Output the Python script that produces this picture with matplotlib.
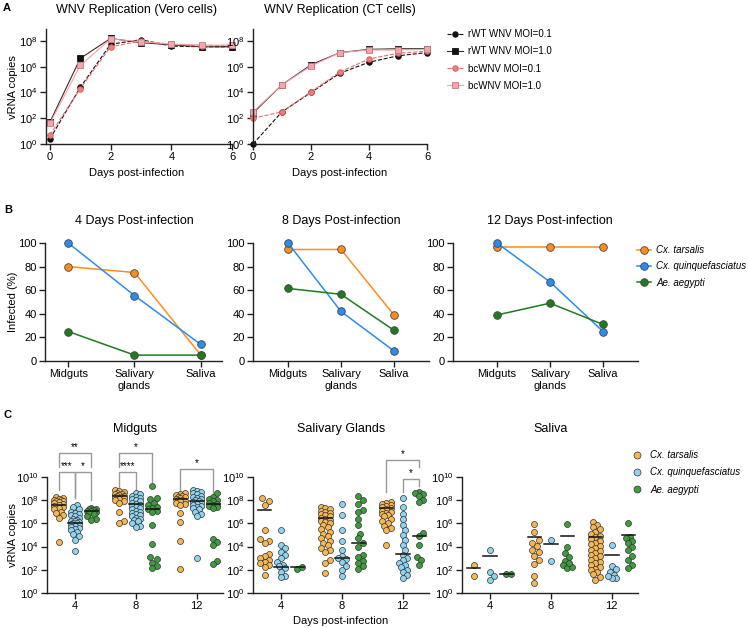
import numpy as np
import matplotlib
matplotlib.use('Agg')
import matplotlib.pyplot as plt
from matplotlib.ticker import NullLocator
from matplotlib.lines import Line2D

plt.rcParams['font.family'] = ['Liberation Sans', 'DejaVu Sans']
plt.rcParams['mathtext.fontset'] = 'custom'
plt.rcParams['mathtext.rm'] = 'Liberation Sans'
plt.rcParams['mathtext.it'] = 'Liberation Sans:italic'
plt.rcParams['mathtext.default'] = 'regular'

# ---------------- data (log10 copies for A and C) ----------------
days = [0, 1, 2, 3, 4, 5, 6]
vero_rwt_01 = [0.4, 4.4, 7.75, 8.1, 7.6, 7.55, 7.55]
vero_rwt_10 = [1.7, 6.65, 8.2, 7.87, 7.7, 7.55, 7.55]
vero_bc_01 = [0.7, 4.3, 7.55, 8.0, 7.75, 7.6, 7.7]
vero_bc_10 = [1.6, 6.1, 8.15, 7.95, 7.75, 7.7, 7.65]
ct_rwt_01 = [0.0, 2.5, 4.0, 5.5, 6.35, 6.85, 7.1]
ct_rwt_10 = [2.4, 4.6, 6.15, 7.1, 7.35, 7.4, 7.4]
ct_bc_01 = [2.0, 2.5, 4.05, 5.6, 6.6, 7.05, 7.2]
ct_bc_10 = [2.5, 4.6, 6.05, 7.1, 7.3, 7.3, 7.35]
a_labels = ['rWT WNV MOI=0.1', 'rWT WNV MOI=1.0', 'bcWNV MOI=0.1', 'bcWNV MOI=1.0']

tissues_b = ['Midguts', 'Salivary\nglands', 'Saliva']
b_titles = ['4 Days Post-infection', '8 Days Post-infection', '12 Days Post-infection']
species = ['Cx. tarsalis', 'Cx. quinquefasciatus', 'Ae. aegypti']
inf_tar = [[80, 75, 5], [94.5, 94.5, 39], [97, 97, 97]]
inf_qui = [[100, 55.5, 14], [100, 42, 8.5], [100, 67, 25]]
inf_aeg = [[25, 5, 5], [61.5, 56.5, 26], [39, 49, 31]]

c_days = ['4', '8', '12']
c_titles = ['Midguts', 'Salivary Glands', 'Saliva']
mid_tar = [[8.3, 8.2, 8.1, 8.05, 8.0, 7.95, 7.9, 7.85, 7.8, 7.7, 7.6, 7.5, 7.45, 7.3, 7.2, 7.0, 6.9, 6.7, 6.5, 4.4],
           [8.9, 8.8, 8.7, 8.65, 8.55, 8.5, 8.45, 8.4, 8.35, 8.3, 8.25, 8.2, 8.1, 8.0, 7.9, 7.8, 7.0, 6.2, 6.0],
           [8.6, 8.5, 8.45, 8.4, 8.3, 8.25, 8.2, 8.1, 8.05, 8.0, 7.95, 7.9, 7.8, 7.7, 7.6, 6.9, 6.1, 4.5, 2.05]]
mid_qui = [[7.6, 7.4, 7.2, 7.0, 6.9, 6.8, 6.7, 6.6, 6.5, 6.4, 6.3, 6.25, 6.2, 6.1, 6.05, 6.0, 5.95, 5.9, 5.8, 5.7,
            5.6, 5.5, 5.4, 5.3, 5.1, 4.9, 4.6, 3.6],
           [8.6, 8.5, 8.4, 8.3, 8.2, 8.1, 8.0, 7.9, 7.8, 7.7, 7.6, 7.5, 7.4, 7.3, 7.2, 7.1, 7.0, 6.9, 6.8, 6.7,
            6.6, 6.5, 6.4, 6.3, 6.2, 6.0, 5.8, 5.7],
           [8.9, 8.8, 8.7, 8.6, 8.5, 8.4, 8.3, 8.2, 8.1, 8.0, 7.9, 7.85, 7.8, 7.7, 7.6, 7.5, 7.4, 7.3, 7.2, 7.0,
            6.8, 6.6, 3.0]]
mid_aeg = [[7.3, 7.25, 7.2, 7.15, 7.1, 7.05, 7.0, 6.9, 6.8, 6.6, 6.4, 6.3],
           [9.2, 8.2, 8.1, 7.8, 7.6, 7.4, 7.3, 7.2, 7.1, 7.0, 5.9, 4.2, 3.1, 2.9, 2.6, 2.3, 2.15],
           [8.6, 8.3, 8.1, 8.0, 7.9, 7.8, 7.7, 7.6, 7.5, 7.4, 7.3, 4.65, 4.4, 4.15, 2.8, 2.5]]
mid_bars = [[7.6, 8.4, 8.1], [6.06, 7.67, 7.96], [7.07, 7.24, 7.65]]

sal_tar = [[8.15, 7.95, 7.6, 5.45, 4.65, 4.45, 4.3, 3.4, 3.2, 3.0, 2.85, 2.7, 2.55, 2.4, 2.2, 1.55],
           [7.4, 7.3, 7.2, 7.1, 7.0, 6.9, 6.8, 6.7, 6.6, 6.5, 6.4, 6.3, 6.2, 6.1, 6.0, 5.9, 5.7, 5.5, 5.3, 5.1,
            4.9, 4.7, 4.5, 4.3, 4.1, 3.9, 3.7, 3.55, 2.85, 2.6, 1.7],
           [7.85, 7.8, 7.7, 7.6, 7.5, 7.4, 7.3, 7.2, 7.1, 7.0, 6.9, 6.8, 6.7, 6.6, 6.4, 6.2, 6.0, 5.8, 5.6, 5.4, 4.15]]
sal_qui = [[5.4, 4.15, 3.85, 3.55, 3.3, 3.0, 2.7, 2.45, 2.3, 2.15, 1.85, 1.5, 1.4],
           [7.65, 6.7, 5.4, 4.5, 3.7, 3.2, 3.0, 2.9, 2.7, 2.3, 2.0, 1.5],
           [8.15, 7.4, 6.85, 6.4, 5.85, 5.4, 5.0, 4.55, 4.15, 3.7, 3.3, 3.0, 2.85, 2.6, 2.45, 2.2, 2.0, 1.8,
            1.55, 1.3]]
sal_aeg = [[2.1, 2.25],
           [8.4, 8.05, 7.7, 7.15, 7.0, 6.4, 5.85, 5.1, 4.7, 4.3, 3.95, 3.3, 3.1, 2.8, 2.6, 2.3, 2.05],
           [8.7, 8.6, 8.5, 8.4, 8.0, 7.85, 5.15, 4.9, 4.15, 3.1, 2.85, 2.45]]
sal_bars = [[7.13, 6.44, 7.3], [2.27, 3.05, 3.36], [2.2, 4.28, 4.9]]

sva_tar = [[2.45, 1.5],
           [5.95, 5.3, 4.55, 4.35, 4.05, 3.7, 3.5, 3.15, 2.85, 2.5, 1.45, 0.85],
           [6.15, 5.9, 5.7, 5.5, 5.3, 5.1, 4.95, 4.8, 4.65, 4.5, 4.35, 4.2, 4.05, 3.9, 3.75, 3.6, 3.45, 3.3,
            3.15, 3.0, 2.85, 2.7, 2.55, 2.4, 2.25, 2.1, 1.95, 1.8, 1.6, 1.4, 1.15]]
sva_qui = [[3.75, 1.85, 1.5, 1.15],
           [4.55, 2.8],
           [4.15, 2.3, 2.05, 1.85, 1.55, 1.3, 1.3, 1.5]]
sva_aeg = [[1.65, 1.65],
           [5.95, 4.0, 3.45, 3.1, 2.8, 2.45, 2.15, 2.2, 2.6],
           [6.05, 4.85, 4.7, 4.5, 4.3, 4.0, 3.7, 3.15, 2.85, 2.45, 2.15]]
sva_bars = [[2.15, 4.85, 4.85], [3.15, 4.2, 3.25], [1.65, 4.95, 5.0]]

# (day index, species a, species b, bracket height, leg a bottom, leg b bottom, label)
mid_sig = [(0, 0, 2, 12.07, 10.85, 10.85, '**'), (0, 0, 1, 10.43, 8.88, 8.2, '***'),
           (0, 1, 2, 10.43, 8.3, 8.0, '*'), (1, 0, 2, 12.07, 10.85, 9.6, '*'),
           (1, 0, 1, 10.43, 9.15, 8.3, '****'), (2, 0, 2, 10.69, 8.8, 8.3, '*')]
sal_sig = [(2, 0, 2, 11.47, 8.7, 10.9, '*'), (2, 1, 2, 9.83, 8.7, 9.2, '*')]

# ---------------- layout helpers ----------------
W, H = 748, 628
fig = plt.figure(figsize=(W / 100, H / 100), dpi=100)
INK = '#222222'


def add_ax(l, t, r, b):
    return fig.add_axes([l / W, 1 - b / H, (r - l) / W, (b - t) / H])


def ftext(x, y, s, **kw):
    fig.text(x / W, 1 - y / H, s, **kw)


def prism(ax, size=8):
    for s in ['top', 'right']:
        ax.spines[s].set_visible(False)
    for s in ['left', 'bottom']:
        ax.spines[s].set_linewidth(1.0)
        ax.spines[s].set_color(INK)
    ax.tick_params(direction='out', length=4, width=1, labelsize=size, color=INK, pad=2)


def log_axis(ax, top, step=2):
    ax.set_yscale('log')
    ax.set_ylim(1, 10 ** top)
    ex = list(range(0, int(top) + 1, step))
    ax.set_yticks([10.0 ** e for e in ex])
    ax.set_yticklabels([r'$10^{%d}$' % e for e in ex])
    ax.yaxis.set_minor_locator(NullLocator())


# ---------------- panel A ----------------
ftext(3, 8, 'A', fontsize=8, fontweight='bold', va='center')
ax_vero = add_ax(46, 29, 232, 144)
ax_ct = add_ax(253, 29, 427, 144)
a_sets = [(ax_vero, [vero_rwt_01, vero_rwt_10, vero_bc_01, vero_bc_10], (-0.13, 6), 137,
           'WNV Replication (Vero cells)'),
          (ax_ct, [ct_rwt_01, ct_rwt_10, ct_bc_01, ct_bc_10], (0, 6), 340, 'WNV Replication (CT cells)')]
a_styles = [dict(marker='o', ls='--', color='#111111', mfc='#111111', mec='#111111'),
            dict(marker='s', ls='-', color='#3a2a2a', mfc='#111111', mec='#111111'),
            dict(marker='o', ls='--', color='#f06a6a', mfc='#f47c7c', mec='#d45c5c'),
            dict(marker='s', ls='-', color='#f4a0a6', mfc='#f4a6ae', mec='#c87880')]
for ax, series, xl, cx, title in a_sets:
    prism(ax)
    log_axis(ax, 8.93)
    ax.set_xlim(*xl)
    ax.set_xticks([0, 2, 4, 6])
    for vals, st, lab in zip(series, a_styles, a_labels):
        ax.plot(days, 10 ** np.array(vals), lw=0.8, ms=4, mew=0.6, clip_on=False, label=lab, **st)
    ftext(cx, 10, title, fontsize=9, ha='center', va='center')
    ftext(cx, 173, 'Days post-infection', fontsize=8, ha='center', va='center')
ftext(13, 87, 'vRNA copies', fontsize=8, rotation=90, ha='center', va='center')
h, l = ax_ct.get_legend_handles_labels()
fig.legend(h, l, loc='upper left', bbox_to_anchor=(447 / W, 1 - 29 / H), frameon=False, fontsize=7,
           handlelength=1.6, handletextpad=0.6, labelspacing=0.75, borderpad=0, borderaxespad=0)

# ---------------- panel B ----------------
ftext(4, 210, 'B', fontsize=8, fontweight='bold', va='center')
b_boxes = [(45, 243, 222, 361), (253, 243, 429, 361), (453, 243, 638, 361)]
b_xlims = [(-0.35, 2.32), (-0.66, 2.66), (-0.83, 2.66)]
b_centers = [134, 341, 550]
b_colors = ['#ff8c1e', '#2a8cf0', '#1e7b1e']
for i, box in enumerate(b_boxes):
    ax = add_ax(*box)
    prism(ax)
    ax.set_xlim(*b_xlims[i])
    ax.set_ylim(0, 100)
    ax.set_yticks([0, 20, 40, 60, 80, 100])
    ax.set_xticks(range(3))
    ax.set_xticklabels(tissues_b, linespacing=1.2)
    for vals, col, lab in zip([inf_tar[i], inf_qui[i], inf_aeg[i]], b_colors, species):
        ax.plot(range(3), vals, '-o', color=col, lw=1.1, ms=5.5, mfc=col, mec='#444444', mew=0.6,
                clip_on=False, label=lab)
    ftext(b_centers[i], 221, b_titles[i], fontsize=9, ha='center', va='center')
    if i == 2:
        h, l = ax.get_legend_handles_labels()
        fig.legend(h, l, loc='upper left', bbox_to_anchor=(637 / W, 1 - 245 / H), frameon=False,
                   prop={'style': 'italic', 'size': 7}, handlelength=1.4, handletextpad=0.6,
                   labelspacing=0.65, borderpad=0, borderaxespad=0)
ftext(13, 302, 'Infected (%)', fontsize=8, rotation=90, ha='center', va='center')

# ---------------- panel C ----------------
ftext(4, 415, 'C', fontsize=8, fontweight='bold', va='center')
c_boxes = [(47, 477, 223, 593), (253, 477, 429, 593), (462, 477, 638, 593)]
c_centers = [135, 341, 551]
c_colors = ['#f6b650', '#8ed4f0', '#3e9b3e']
c_data = [(mid_tar, mid_qui, mid_aeg, mid_bars, mid_sig),
          (sal_tar, sal_qui, sal_aeg, sal_bars, sal_sig),
          (sva_tar, sva_qui, sva_aeg, sva_bars, [])]
OFF = 0.27
DIAM = 6.0


def swarm(ax, center, logs, diam=DIAM, maxw=6.0):
    p0 = ax.transData.transform((0, 1.0))
    p1 = ax.transData.transform((1, 10.0))
    sx, sy = p1[0] - p0[0], p1[1] - p0[1]
    logs = np.asarray(logs, float)
    xs = np.zeros(len(logs))
    placed = []
    step = diam * 0.35
    for i in np.argsort(logs):
        py = logs[i] * sy
        best, best_d = 0.0, -1.0
        k = 0
        while True:
            off = ((k + 1) // 2) * step * (1 if k % 2 else -1)
            if abs(off) > maxw:
                break
            d = min([np.hypot(off - qx, py - qy) for qx, qy in placed], default=np.inf)
            if d >= diam * 0.8:
                best = off
                break
            if d > best_d:
                best_d, best = d, off
            k += 1
        xs[i] = best
        placed.append((best, py))
    return center + xs / sx


for t, box in enumerate(c_boxes):
    ax = add_ax(*box)
    prism(ax)
    log_axis(ax, 10)
    ax.set_xlim(-0.46, 2.43)
    ax.set_xticks(range(3))
    ax.set_xticklabels(c_days)
    tar, qui, aeg, bars, sig = c_data[t]
    for s, (grp, col) in enumerate(zip([tar, qui, aeg], c_colors)):
        for d in range(3):
            xc = d + (s - 1) * OFF
            xs = swarm(ax, xc, grp[d])
            ax.scatter(xs, 10 ** np.array(grp[d]), s=DIAM ** 2 * 0.52, c=col, edgecolors='#333333',
                       linewidths=0.5, zorder=3, clip_on=False)
            ax.plot([xc - 0.11, xc + 0.11], [10 ** bars[s][d]] * 2, color='#111111', lw=1.1, zorder=4)
    for d, a, b, top, ya, yb, lab in sig:
        xa, xb = d + (a - 1) * OFF, d + (b - 1) * OFF
        ax.plot([xa, xa, xb, xb], [10 ** ya, 10 ** top, 10 ** top, 10 ** yb], color='#999999', lw=1,
                clip_on=False, zorder=2)
        ax.text((xa + xb) / 2, 10 ** (top + 0.1), lab, ha='center', va='bottom', fontsize=7)
    ftext(c_centers[t], 429, c_titles[t], fontsize=9, ha='center', va='center')
ftext(13, 535, 'vRNA copies', fontsize=8, rotation=90, ha='center', va='center')
ftext(341, 621, 'Days post-infection', fontsize=8, ha='center', va='center')
c_handles = [Line2D([], [], ls='', marker='o', ms=5, mfc=col, mec='#333333', mew=0.5) for col in c_colors]
fig.legend(c_handles, species, loc='upper left', bbox_to_anchor=(632 / W, 1 - 450 / H), frameon=False,
           prop={'style': 'italic', 'size': 7}, handlelength=1.0, handletextpad=0.9,
           labelspacing=0.75, borderpad=0, borderaxespad=0)

fig.savefig('out.png', dpi=100)
